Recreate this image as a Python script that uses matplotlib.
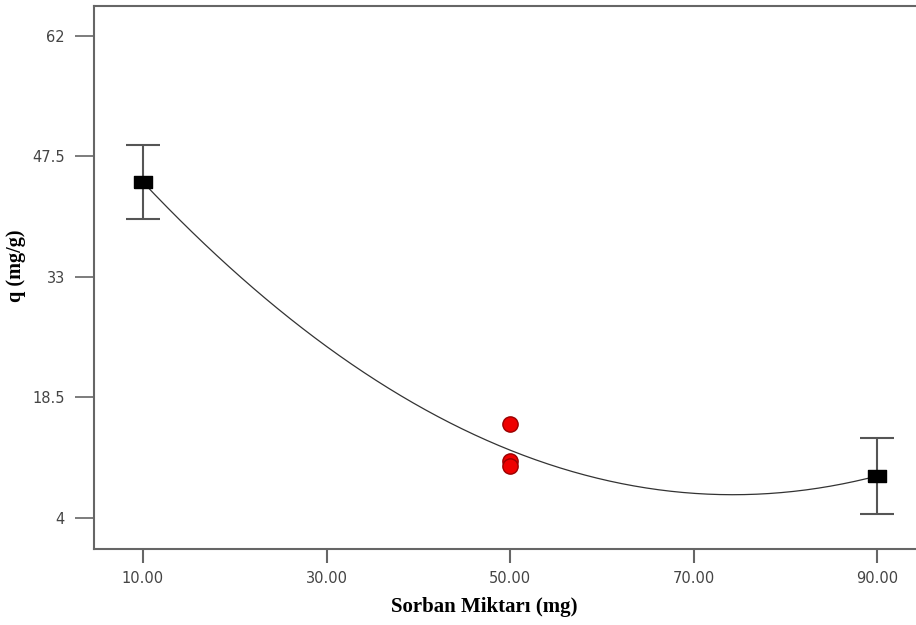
import numpy as np
import matplotlib
matplotlib.use("Agg")
import matplotlib.pyplot as plt

# design points (black squares with error bars)
x_pts = [10, 90]
y_pts = [44.4, 9.05]
y_err = [4.45, 4.55]

# actual runs at center point (red circles)
x_runs = [50, 50, 50]
y_runs = [15.3, 10.9, 10.3]

xticks = [10, 30, 50, 70, 90]
xtick_labels = ["10.00", "30.00", "50.00", "70.00", "90.00"]
yticks = [4, 18.5, 33, 47.5, 62]
ytick_labels = ["4", "18.5", "33", "47.5", "62"]

fig = plt.figure(figsize=(9.16, 6.25), dpi=100)
ax = fig.add_axes([94 / 916, 1 - 549 / 625, (922 - 94) / 916, (549 - 6) / 625])

# quadratic model fitted to the points
fit_x = np.array(x_pts[:1] + x_runs + x_pts[1:], dtype=float)
fit_y = np.array(y_pts[:1] + y_runs + y_pts[1:], dtype=float)
coef = np.polyfit(fit_x, fit_y, 2)
xs = np.linspace(10, 90, 300)
ax.plot(xs, np.polyval(coef, xs), color="#333333", lw=0.9, zorder=2)

ax.errorbar(x_pts, y_pts, yerr=y_err, fmt="none", ecolor="#555555",
            elinewidth=1.5, capsize=12.5, capthick=1.5, zorder=3)
rect = [(-1.5, -1), (1.5, -1), (1.5, 1), (-1.5, 1), (-1.5, -1)]
ax.plot(x_pts, y_pts, linestyle="none", marker=rect, markersize=13,
        color="black", zorder=4)
ax.plot(x_runs, y_runs, linestyle="none", marker="o", markersize=11,
        markerfacecolor="#ee0000", markeredgecolor="#990000",
        markeredgewidth=1, zorder=5)

ax.set_xlim(4.66, 94.9)
ax.set_ylim(0.27, 65.6)
ax.set_xticks(xticks)
ax.set_xticklabels(xtick_labels)
ax.set_yticks(yticks)
ax.set_yticklabels(ytick_labels)

for s in ax.spines.values():
    s.set_color("#666666")
    s.set_linewidth(1.5)

ax.tick_params(axis="x", length=10, width=1.5, color="#666666", pad=6,
               labelsize=10.5, labelcolor="#444444")
ax.tick_params(axis="y", length=14, width=1.2, color="#666666", pad=7,
               labelsize=10.5, labelcolor="#444444")
for lab in ax.get_xticklabels() + ax.get_yticklabels():
    lab.set_family("DejaVu Sans")

ax.set_xlabel("Sorban Miktarı (mg)", family="Liberation Serif",
              fontweight="bold", fontsize=15)
ax.xaxis.set_label_coords(0.471, -0.088)
ax.set_ylabel("q (mg/g)", family="Liberation Serif", fontweight="bold",
              fontsize=14.5)
ax.yaxis.set_label_coords(-0.082, 0.521)

fig.savefig("out.png", dpi=100)
